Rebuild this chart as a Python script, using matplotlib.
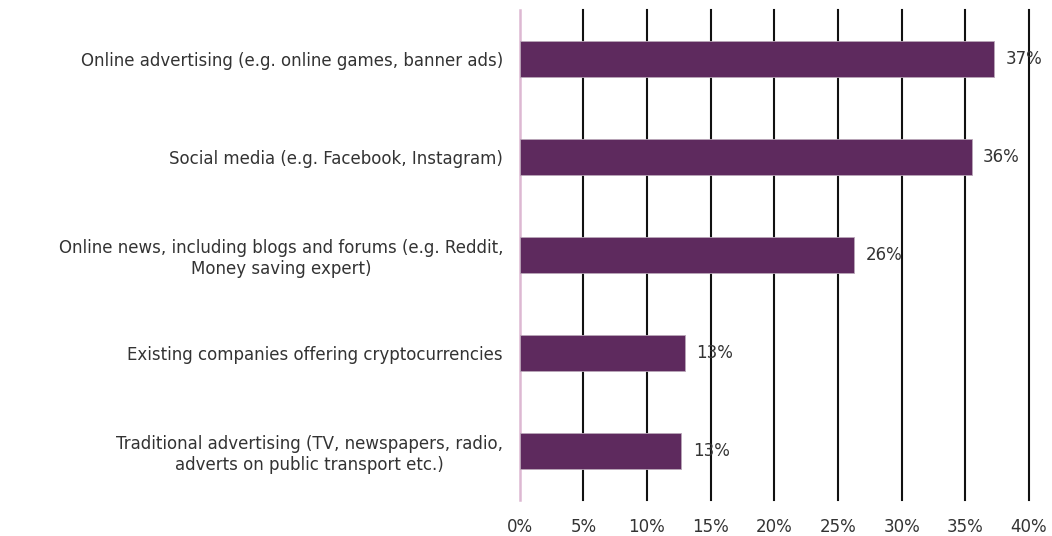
import numpy as np
import matplotlib.pyplot as plt

plt.rcParams['font.family'] = ['DejaVu Sans']

# Datos
categorias = [
    'Online advertising (e.g. online games, banner ads)',
    'Social media (e.g. Facebook, Instagram)',
    'Online news, including blogs and forums (e.g. Reddit,\nMoney saving expert)',
    'Existing companies offering cryptocurrencies',
    'Traditional advertising (TV, newspapers, radio,\nadverts on public transport etc.)',
]
valores = [37.3, 35.5, 26.3, 13.0, 12.7]
etiquetas = ['37%', '36%', '26%', '13%', '13%']
ticks = [0, 5, 10, 15, 20, 25, 30, 35, 40]

fig = plt.figure(figsize=(10.52, 5.36), dpi=100)
ax = fig.add_axes([0.494, 0.067, 0.484, 0.914])

y = np.arange(len(categorias))
ax.barh(y, valores, height=0.37, color='#5E2A5E', edgecolor='#B9A6B8',
        linewidth=0.6, zorder=3)

for yi, v, et in zip(y, valores, etiquetas):
    ax.text(v + 0.9, yi, et, va='center', ha='left', fontsize=12,
            color='#333333', zorder=4)

ax.set_xlim(0, 40)
ax.set_ylim(len(categorias) - 0.5, -0.5)
ax.set_yticks(y)
ax.set_yticklabels(categorias, fontsize=12, color='#333333',
                   multialignment='center')
ax.set_xticks(ticks)
ax.set_xticklabels([f'{t}%' for t in ticks], fontsize=12, color='#333333')
ax.tick_params(axis='both', length=0)
ax.tick_params(axis='x', pad=13)
ax.tick_params(axis='y', pad=12)

for t in ticks[1:]:
    ax.axvline(t, color='#111111', lw=1.5, zorder=1, clip_on=False)
ax.axvline(0, color='#DDB8D2', lw=1.8, zorder=2, clip_on=False)

for s in ax.spines.values():
    s.set_visible(False)

fig.savefig('out.png', dpi=100)
